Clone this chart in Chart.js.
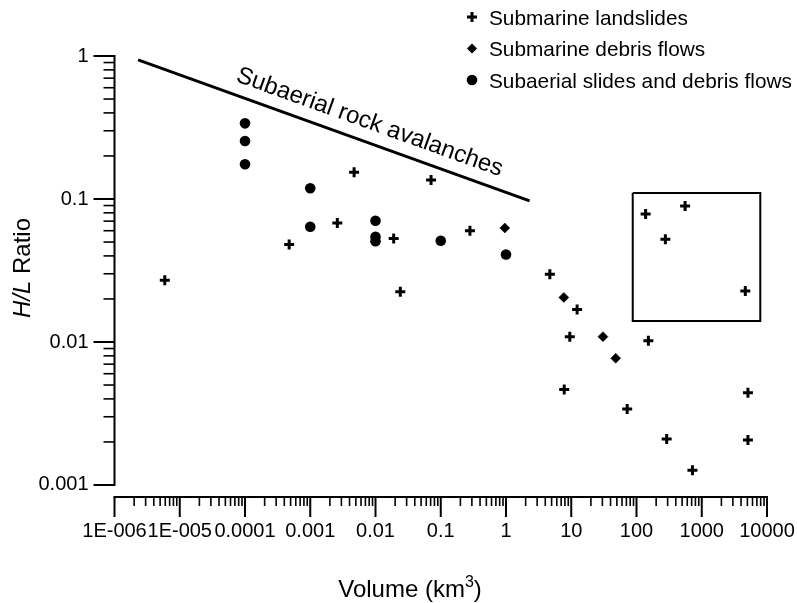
<!DOCTYPE html>
<html>
<head>
<meta charset="utf-8">
<script src="https://cdn.jsdelivr.net/npm/chart.js@4.4.1/dist/chart.umd.min.js"></script>
<style>
  html, body { margin: 0; padding: 0; background: #fff; }
  #wrap { width: 797px; height: 603px; }
</style>
</head>
<body>
<div id="wrap"><canvas id="grafico" width="797" height="603"></canvas></div>
<script>
// Submarine landslides (+)
const landslideVol = [5.9e-6, 4.75e-4, 2.6e-3, 4.7e-3, 0.019, 0.024, 0.071, 0.28, 4.7, 12.3, 9.5, 152, 7.8, 72, 290, 720, 5100, 5100, 138, 556, 277, 4650];
const landslideHL = [0.027, 0.048, 0.068, 0.154, 0.053, 0.0225, 0.136, 0.060, 0.0298, 0.0169, 0.0109, 0.0102, 0.00466, 0.0034, 0.0021, 0.00127, 0.00442, 0.00206, 0.0785, 0.0893, 0.0523, 0.0227];

// Submarine debris flows (diamonds)
const debrisVol = [0.96, 7.7, 30.6, 48];
const debrisHL = [0.0627, 0.0205, 0.0109, 0.0077];

// Subaerial slides and debris flows (circles)
const subaerialVol = [1e-4, 1e-4, 1e-4, 0.001, 0.001, 0.01, 0.01, 0.01, 0.1, 1];
const subaerialHL = [0.338, 0.2545, 0.175, 0.119, 0.064, 0.0705, 0.0545, 0.0507, 0.0511, 0.0409];

// "Subaerial rock avalanches" trend line
const avalancheVol = [2.3e-6, 2.3];
const avalancheHL = [0.94, 0.097];

// Box around the outlying landslides
const boxVol = [87.5, 7890, 7890, 87.5, 87.5];
const boxHL = [0.11, 0.11, 0.014, 0.014, 0.11];

// Axis labels
const xTickLabels = ['1E-006', '1E-005', '0.0001', '0.001', '0.01', '0.1', '1', '10', '100', '1000', '10000'];
const xDecades = [-6, -5, -4, -3, -2, -1, 0, 1, 2, 3, 4];
const yTickLabels = ['0.001', '0.01', '0.1', '1'];
const yDecades = [-3, -2, -1, 0];

const seriesNames = ['Submarine landslides', 'Submarine debris flows', 'Subaerial slides and debris flows'];
const lineLabel = 'Subaerial rock avalanches';

const FONT = "'Liberation Sans', Arial, Helvetica, sans-serif";
const toPoints = (xs, ys) => xs.map((x, i) => ({ x: x, y: ys[i] }));

// decade ticks plus 2..9 minor ticks
function logTicks(lo, hi) {
  const t = [];
  for (let e = lo; e <= hi; e++) {
    for (let m = 1; m < 10; m++) {
      if (e === hi && m > 1) break;
      t.push({ value: m * Math.pow(10, e) });
    }
  }
  return t;
}
const isDecade = v => Math.abs(Math.log10(v) - Math.round(Math.log10(v))) < 1e-6;

function drawMarker(ctx, style, x, y) {
  ctx.save();
  ctx.fillStyle = '#000';
  ctx.strokeStyle = '#000';
  ctx.beginPath();
  if (style === 'cross') {
    const r = 5;
    ctx.lineWidth = 3;
    ctx.moveTo(x - r, y); ctx.lineTo(x + r, y);
    ctx.moveTo(x, y - r); ctx.lineTo(x, y + r);
    ctx.stroke();
  } else if (style === 'rectRot') {
    const r = 5;
    ctx.moveTo(x, y - r); ctx.lineTo(x + r, y); ctx.lineTo(x, y + r); ctx.lineTo(x - r, y);
    ctx.closePath();
    ctx.fill();
  } else {
    ctx.arc(x, y, 5.3, 0, Math.PI * 2);
    ctx.fill();
  }
  ctx.restore();
}

const extrasPlugin = {
  id: 'extras',
  afterDraw(chart) {
    const ctx = chart.ctx;
    const xs = chart.scales.x;
    const ys = chart.scales.y;
    ctx.save();
    ctx.strokeStyle = '#000';
    ctx.fillStyle = '#000';
    ctx.lineCap = 'butt';

    // y axis
    const ax = chart.chartArea.left;
    const yTop = ys.getPixelForValue(1);
    const yBot = ys.getPixelForValue(0.001);
    ctx.lineWidth = 2;
    ctx.beginPath();
    ctx.moveTo(ax, yTop - 1); ctx.lineTo(ax, yBot + 1);
    ctx.stroke();
    ys.ticks.forEach(t => {
      const py = ys.getPixelForValue(t.value);
      const len = isDecade(t.value) ? 21 : 11;
      ctx.lineWidth = isDecade(t.value) ? 2 : 1.6;
      ctx.beginPath();
      ctx.moveTo(ax, py); ctx.lineTo(ax - len, py);
      ctx.stroke();
    });

    // x axis
    const ay = chart.chartArea.bottom;
    const xL = xs.getPixelForValue(1e-6);
    const xR = xs.getPixelForValue(1e4);
    ctx.lineWidth = 2;
    ctx.beginPath();
    ctx.moveTo(xL - 1, ay); ctx.lineTo(xR + 1, ay);
    ctx.stroke();
    xs.ticks.forEach(t => {
      const px = xs.getPixelForValue(t.value);
      const len = isDecade(t.value) ? 20 : 9;
      ctx.lineWidth = isDecade(t.value) ? 2 : 1.6;
      ctx.beginPath();
      ctx.moveTo(px, ay); ctx.lineTo(px, ay + len);
      ctx.stroke();
    });

    // y title: H/L in italic
    ctx.save();
    ctx.translate(23, 268);
    ctx.rotate(-Math.PI / 2);
    ctx.textBaseline = 'middle';
    ctx.font = 'italic 24px ' + FONT;
    const wIt = ctx.measureText('H/L').width;
    ctx.font = '24px ' + FONT;
    const wRest = ctx.measureText(' Ratio').width;
    let sx = -(wIt + wRest) / 2;
    ctx.textAlign = 'left';
    ctx.font = 'italic 24px ' + FONT;
    ctx.fillText('H/L', sx, 0);
    ctx.font = '24px ' + FONT;
    ctx.fillText(' Ratio', sx + wIt, 0);
    ctx.restore();

    // x title with superscript
    ctx.save();
    ctx.textBaseline = 'alphabetic';
    ctx.textAlign = 'left';
    ctx.font = '24px ' + FONT;
    const p1 = 'Volume (km', p3 = ')';
    const w1 = ctx.measureText(p1).width, w3 = ctx.measureText(p3).width;
    ctx.font = '16px ' + FONT;
    const w2 = ctx.measureText('3').width;
    let tx = 410 - (w1 + w2 + w3) / 2;
    const base = 597;
    ctx.font = '24px ' + FONT;
    ctx.fillText(p1, tx, base);
    ctx.font = '16px ' + FONT;
    ctx.fillText('3', tx + w1, base - 10);
    ctx.font = '24px ' + FONT;
    ctx.fillText(p3, tx + w1 + w2, base);
    ctx.restore();

    // label along the avalanche line
    const meta = chart.getDatasetMeta(3);
    const a = meta.data[0], b = meta.data[1];
    const ang = Math.atan2(b.y - a.y, b.x - a.x);
    const cx = 363;
    const cy = a.y + (cx - a.x) * Math.tan(ang);
    ctx.save();
    ctx.translate(cx, cy);
    ctx.rotate(ang);
    ctx.font = '24px ' + FONT;
    ctx.textAlign = 'center';
    ctx.textBaseline = 'alphabetic';
    ctx.fillText(lineLabel, 0, -13);
    ctx.restore();

    // legend
    const styles = ['cross', 'rectRot', 'circle'];
    const rows = [17, 48.5, 80];
    ctx.font = '20.8px ' + FONT;
    ctx.textAlign = 'left';
    ctx.textBaseline = 'alphabetic';
    seriesNames.forEach((name, i) => {
      drawMarker(ctx, styles[i], 472, rows[i]);
      ctx.fillText(name, 489, rows[i] + 7.5);
    });

    ctx.restore();
  }
};

const ctx = document.getElementById('grafico').getContext('2d');
const grafico = new Chart(ctx, {
  type: 'scatter',
  data: {
    datasets: [
      {
        label: seriesNames[0],
        data: toPoints(landslideVol, landslideHL),
        pointStyle: 'cross',
        pointRadius: 5,
        borderColor: '#000',
        borderWidth: 3,
        showLine: false
      },
      {
        label: seriesNames[1],
        data: toPoints(debrisVol, debrisHL),
        pointStyle: 'rectRot',
        pointRadius: 5,
        backgroundColor: '#000',
        borderColor: '#000',
        borderWidth: 0.5,
        showLine: false
      },
      {
        label: seriesNames[2],
        data: toPoints(subaerialVol, subaerialHL),
        pointStyle: 'circle',
        pointRadius: 5.3,
        backgroundColor: '#000',
        borderColor: '#000',
        borderWidth: 0,
        showLine: false
      },
      {
        label: lineLabel,
        data: toPoints(avalancheVol, avalancheHL),
        showLine: true,
        borderColor: '#000',
        borderWidth: 3,
        pointRadius: 0,
        fill: false
      },
      {
        label: 'box',
        data: toPoints(boxVol, boxHL),
        showLine: true,
        borderColor: '#000',
        borderWidth: 2,
        pointRadius: 0,
        fill: false
      }
    ]
  },
  options: {
    responsive: false,
    animation: false,
    devicePixelRatio: 1,
    layout: { padding: { top: 56, right: 30, bottom: 0, left: 0 } },
    plugins: {
      legend: { display: false },
      tooltip: { enabled: false }
    },
    scales: {
      x: {
        type: 'logarithmic',
        min: 1e-6,
        max: 1e4,
        grid: { display: false, drawTicks: false },
        border: { display: false },
        afterBuildTicks: s => { s.ticks = logTicks(-6, 4); },
        afterFit: s => { s.height = 106; s.paddingLeft = 0; s.paddingRight = 0; },
        ticks: {
          autoSkip: false,
          maxRotation: 0,
          minRotation: 0,
          padding: 22,
          color: '#000',
          font: { family: FONT, size: 20 },
          callback: v => {
            if (!isDecade(v)) return '';
            const i = xDecades.indexOf(Math.round(Math.log10(v)));
            return i >= 0 ? xTickLabels[i] : '';
          }
        }
      },
      y: {
        type: 'logarithmic',
        min: 0.000824,
        max: 1,
        grid: { display: false, drawTicks: false },
        border: { display: false },
        afterBuildTicks: s => { s.ticks = logTicks(-3, 0); },
        afterFit: s => { s.width = 114.5; s.paddingTop = 0; s.paddingBottom = 0; },
        ticks: {
          autoSkip: false,
          padding: 26,
          color: '#000',
          font: { family: FONT, size: 20 },
          callback: v => {
            if (!isDecade(v)) return '';
            const i = yDecades.indexOf(Math.round(Math.log10(v)));
            return i >= 0 ? yTickLabels[i] : '';
          }
        }
      }
    }
  },
  plugins: [extrasPlugin]
});
</script>
</body>
</html>
